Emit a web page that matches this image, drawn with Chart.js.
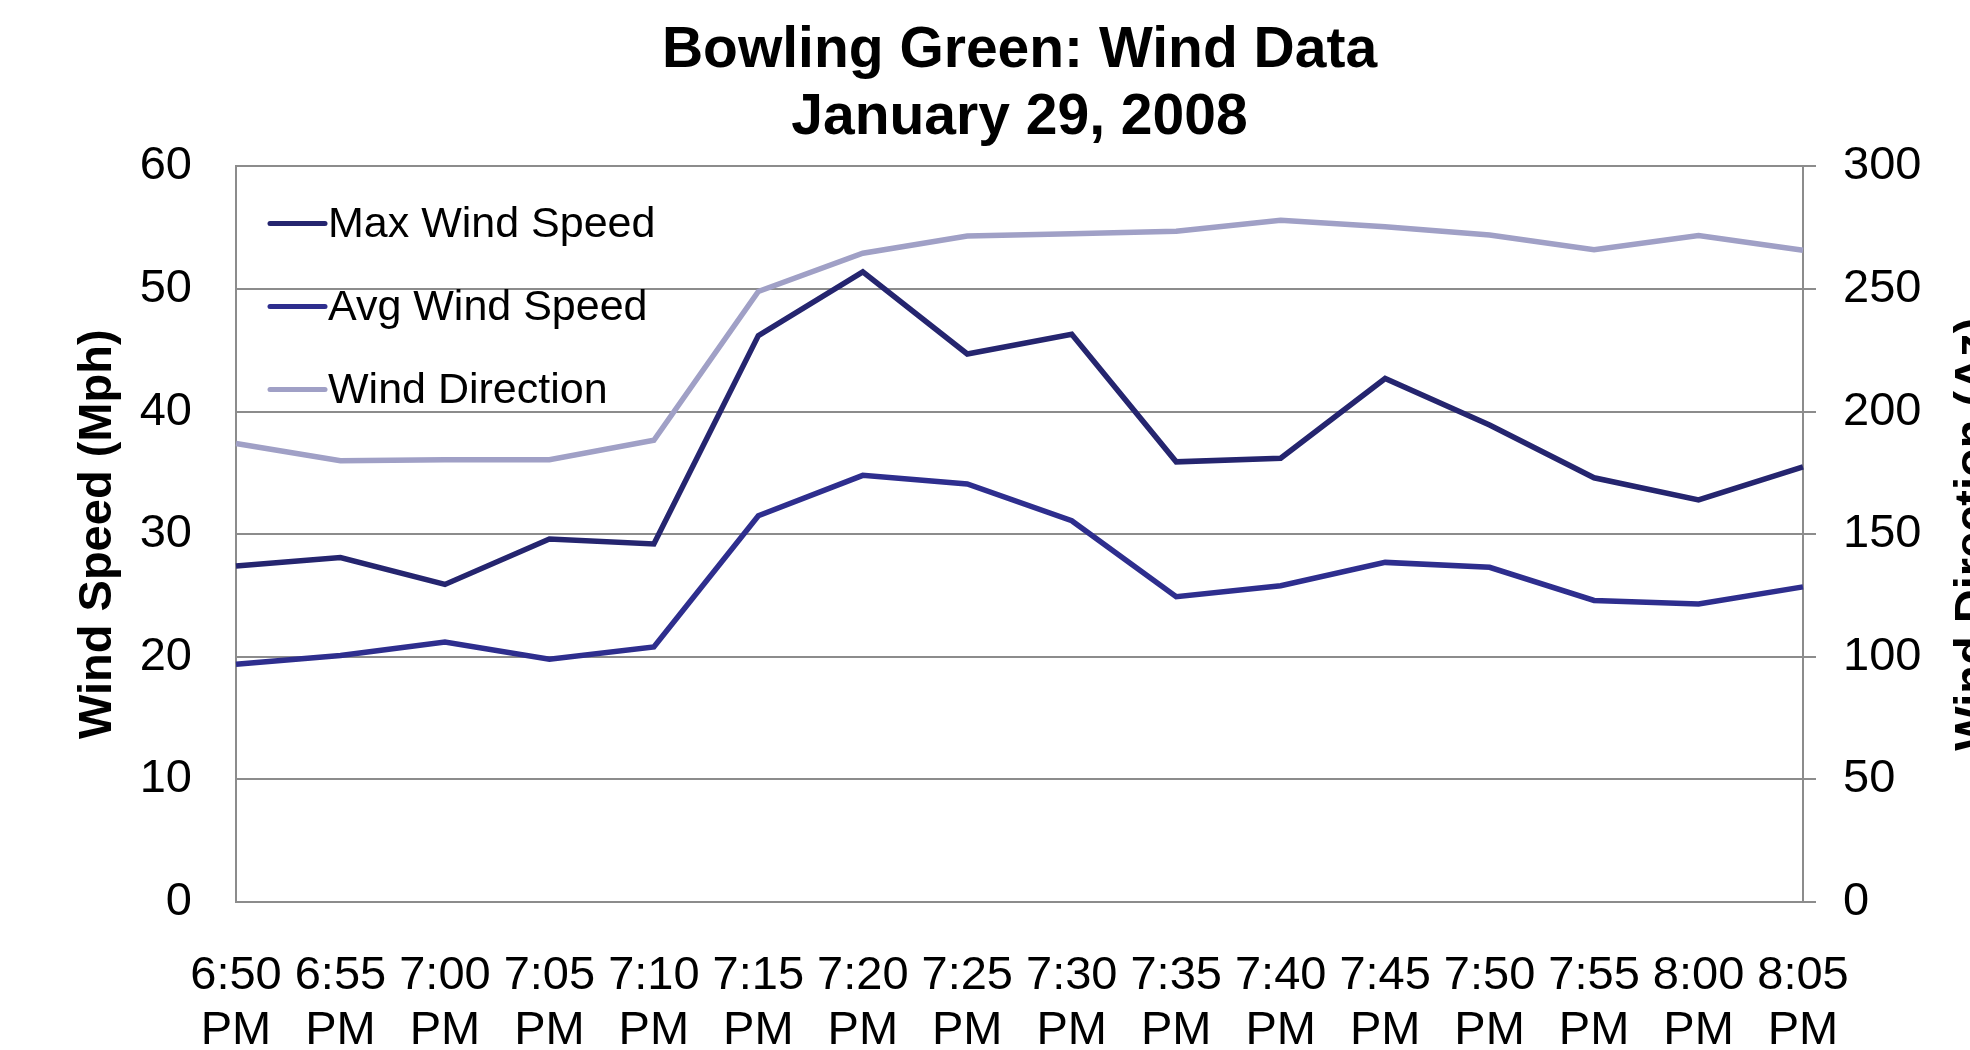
<!DOCTYPE html>
<html>
<head>
<meta charset="utf-8">
<script src="https://cdn.jsdelivr.net/npm/chart.js@4.4.1/dist/chart.umd.min.js"></script>
<style>
  html, body { margin: 0; padding: 0; background: #ffffff; }
  canvas { display: block; }
</style>
</head>
<body>
<canvas id="windChart" width="1970" height="1050"></canvas>
<script>
// Observation times (evening readings, 5-minute steps)
const times = ['6:50', '6:55', '7:00', '7:05', '7:10', '7:15', '7:20', '7:25',
               '7:30', '7:35', '7:40', '7:45', '7:50', '7:55', '8:00', '8:05'];
const period = 'PM';

// Wind speeds in mph (left axis)
const maxSpeed = [27.4, 28.1, 25.9, 29.6, 29.2, 46.2, 51.4, 44.7,
                  46.3, 35.9, 36.2, 42.7, 38.9, 34.6, 32.8, 35.5];
const avgSpeed = [19.4, 20.1, 21.2, 19.8, 20.8, 31.5, 34.8, 34.1,
                  31.1, 24.9, 25.8, 27.7, 27.3, 24.6, 24.3, 25.7];

// Wind direction in azimuth degrees (right axis)
const direction = [187, 180, 180.4, 180.4, 188.3, 249, 264.6, 271.6,
                   272.5, 273.5, 278, 275.4, 272, 266, 271.8, 265.8];

const seriesNames = ['Max Wind Speed', 'Avg Wind Speed', 'Wind Direction'];
const titleLines = ['Bowling Green: Wind Data', 'January 29, 2008'];
const speedAxisTitle = 'Wind Speed (Mph)';
const directionAxisTitle = 'Wind Direction (Az)';

const FONT = '"Liberation Sans", Arial, Helvetica, sans-serif';
const GRID = '#8c8c8c';

// Two-line category labels: time on top, AM/PM below
const categories = times.map(t => [t, period]);

// Rotated axis titles on both sides, reading bottom to top
const sideTitles = {
  id: 'sideTitles',
  afterDraw(chart) {
    const { ctx, chartArea: a } = chart;
    const cy = (a.top + a.bottom) / 2;
    ctx.save();
    ctx.font = 'bold 47px ' + FONT;
    ctx.fillStyle = '#000000';
    ctx.textAlign = 'center';
    ctx.textBaseline = 'alphabetic';
    [[a.left - 125, speedAxisTitle], [a.right + 184, directionAxisTitle]].forEach(([x, text]) => {
      ctx.save();
      ctx.translate(x, cy);
      ctx.rotate(-Math.PI / 2);
      ctx.fillText(text, 0, 0);
      ctx.restore();
    });
    ctx.restore();
  }
};

// Legend placed inside the plot, top-left, one entry per row
const insideLegend = {
  id: 'insideLegend',
  afterDatasetsDraw(chart) {
    const { ctx, chartArea: a } = chart;
    ctx.save();
    ctx.font = '43px ' + FONT;
    ctx.textAlign = 'left';
    ctx.textBaseline = 'middle';
    chart.data.datasets.forEach((ds, i) => {
      const y = a.top + 57 + i * 83;
      const x0 = a.left + 34;
      ctx.strokeStyle = ds.borderColor;
      ctx.lineWidth = 5;
      ctx.lineCap = 'round';
      ctx.beginPath();
      ctx.moveTo(x0, y);
      ctx.lineTo(x0 + 55, y);
      ctx.stroke();
      ctx.fillStyle = '#000000';
      ctx.fillText(ds.label, x0 + 58, y + 2);
    });
    ctx.restore();
  }
};

const lineStyle = {
  fill: false,
  tension: 0,
  pointRadius: 0,
  pointHoverRadius: 0,
  borderWidth: 5.5,
  borderJoinStyle: 'miter',
  borderCapStyle: 'butt'
};

new Chart(document.getElementById('windChart'), {
  type: 'line',
  data: {
    labels: categories,
    datasets: [
      Object.assign({ label: seriesNames[0], data: maxSpeed, borderColor: '#25256f', yAxisID: 'y' }, lineStyle),
      Object.assign({ label: seriesNames[1], data: avgSpeed, borderColor: '#2e2e8e', yAxisID: 'y' }, lineStyle),
      Object.assign({ label: seriesNames[2], data: direction, borderColor: '#a0a0c6', yAxisID: 'y1' }, lineStyle)
    ]
  },
  options: {
    responsive: false,
    animation: false,
    devicePixelRatio: 1,
    layout: { padding: 0 },
    plugins: {
      legend: { display: false },
      tooltip: { enabled: false },
      title: {
        display: true,
        fullSize: false,
        text: titleLines,
        color: '#000000',
        font: { family: FONT, size: 57, weight: 'bold', lineHeight: 1.17 },
        padding: { top: 18, bottom: 15 }
      }
    },
    scales: {
      x: {
        type: 'category',
        offset: false,
        afterFit(s) { s.height = 148; },
        grid: { display: false, drawTicks: false },
        border: { display: true, color: GRID, width: 2 },
        ticks: {
          color: '#000000',
          font: { family: FONT, size: 47, lineHeight: 1.16 },
          padding: 47,
          maxRotation: 0,
          minRotation: 0,
          autoSkip: false
        }
      },
      y: {
        position: 'left',
        min: 0,
        max: 60,
        afterFit(s) { s.width = 236; },
        grid: { color: GRID, lineWidth: 2, drawTicks: false },
        border: { display: true, color: GRID, width: 2 },
        ticks: {
          stepSize: 10,
          color: '#000000',
          font: { family: FONT, size: 47 },
          padding: 44
        }
      },
      y1: {
        position: 'right',
        min: 0,
        max: 300,
        afterFit(s) { s.width = 167; },
        grid: { drawOnChartArea: false, drawTicks: true, tickLength: 13, color: GRID, lineWidth: 2 },
        border: { display: true, color: GRID, width: 2 },
        ticks: {
          stepSize: 50,
          color: '#000000',
          font: { family: FONT, size: 47 },
          padding: 27
        }
      }
    }
  },
  plugins: [insideLegend, sideTitles]
});
</script>
</body>
</html>
